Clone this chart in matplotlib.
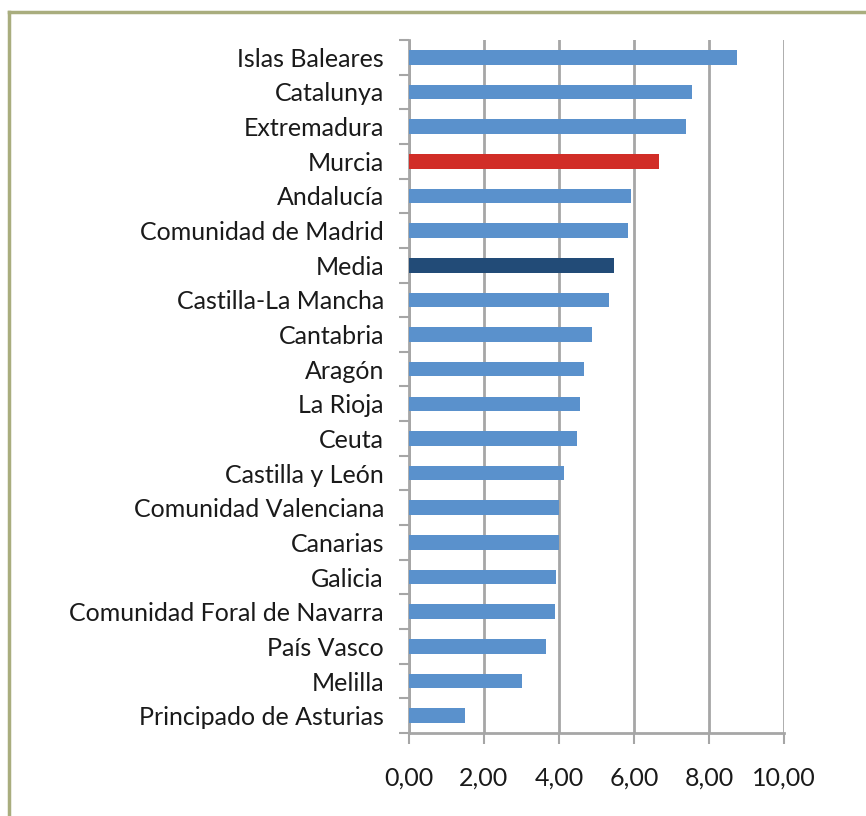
import matplotlib.pyplot as plt
from matplotlib.lines import Line2D

# comunidades, de mayor a menor
regiones = ['Islas Baleares', 'Catalunya', 'Extremadura', 'Murcia', 'Andalucía',
            'Comunidad de Madrid', 'Media', 'Castilla-La Mancha', 'Cantabria',
            'Aragón', 'La Rioja', 'Ceuta', 'Castilla y León',
            'Comunidad Valenciana', 'Canarias', 'Galicia',
            'Comunidad Foral de Navarra', 'País Vasco', 'Melilla',
            'Principado de Asturias']
valores = [8.75, 7.54, 7.38, 6.67, 5.91, 5.83, 5.46, 5.34, 4.89, 4.66, 4.55,
           4.49, 4.14, 4.01, 4.00, 3.91, 3.90, 3.65, 3.02, 1.49]
ticks_x = [0, 2, 4, 6, 8, 10]

azul = '#5a91cc'
colores = [azul] * len(regiones)
colores[regiones.index('Murcia')] = '#d12d27'
colores[regiones.index('Media')] = '#224b77'

plt.rcParams['font.family'] = ['Lato', 'DejaVu Sans']

fig = plt.figure(figsize=(8.66, 8.16), dpi=100)
ax = fig.add_axes([409/866, 1 - 733/816, 375/866, 693/816])

pos = list(range(len(regiones)))
ax.barh(pos, valores, height=0.42, color=colores, zorder=3)
ax.set_ylim(len(regiones) - 0.5, -0.5)
ax.set_xlim(0, 10)

# ticks en los limites de categoria, etiquetas en el centro
ax.set_yticks([p + 0.5 for p in range(-1, len(regiones))])
ax.set_yticklabels([])
ax.set_yticks(pos, minor=True)
ax.set_yticklabels(regiones, minor=True, fontsize=18, color='#1a1a1a')
ax.tick_params(axis='y', which='minor', length=0, pad=18)
ax.tick_params(axis='y', which='major', length=7, width=1.5, color='#a6a6a6')

ax.set_xticks(ticks_x)
ax.set_xticklabels([('%.2f' % t).replace('.', ',') for t in ticks_x],
                   fontsize=18, color='#1a1a1a')
ax.tick_params(axis='x', length=8, width=1.5, color='#a6a6a6', pad=16)

ax.grid(axis='x', color='#a6a6a6', linewidth=2, zorder=0)
for s in ['top', 'right']:
    ax.spines[s].set_visible(False)
for s in ['left', 'bottom']:
    ax.spines[s].set_color('#a6a6a6')
    ax.spines[s].set_linewidth(2)

# marco verde oliva
borde = '#a9ad7e'
fig.add_artist(Line2D([8.5/866, 1], [1 - 11.5/816, 1 - 11.5/816], color=borde, lw=2.5,
                      transform=fig.transFigure))
fig.add_artist(Line2D([8.5/866, 8.5/866], [0, 1 - 11.5/816], color=borde, lw=2.5,
                      transform=fig.transFigure))

fig.savefig('out.png', dpi=100)
